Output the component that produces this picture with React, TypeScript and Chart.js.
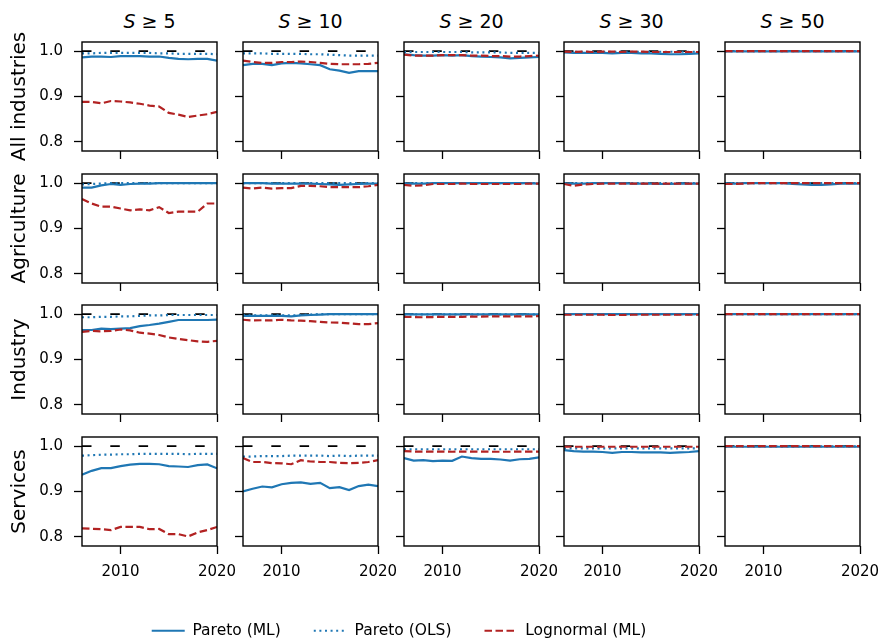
import { useEffect, useRef } from 'react';
import { Chart, registerables } from 'chart.js';

Chart.register(...registerables);

// ---------- data ----------
const YEARS = [2006, 2007, 2008, 2009, 2010, 2011, 2012, 2013, 2014, 2015, 2016, 2017, 2018, 2019, 2020];
const X_TICKS = [2010, 2020];
const Y_TICKS = [0.8, 0.9, 1.0];
const Y_MIN = 0.78;
const Y_MAX = 1.02;
const REFERENCE_Y = 1.0;
const ROW_LABELS = ['All industries', 'Agriculture', 'Industry', 'Services'];
const COL_THRESHOLDS = [5, 10, 20, 30, 50];
const SERIES_NAMES = ['Pareto (ML)', 'Pareto (OLS)', 'Lognormal (ML)'];

// All industries: columns S>=5, 10, 20, 30, 50
const ALL_PARETO_ML = [
  [0.986, 0.988, 0.988, 0.987, 0.989, 0.989, 0.989, 0.988, 0.988, 0.985, 0.983, 0.982, 0.983, 0.983, 0.979],
  [0.969, 0.972, 0.972, 0.969, 0.973, 0.974, 0.973, 0.971, 0.969, 0.960, 0.957, 0.952, 0.956, 0.956, 0.956],
  [0.993, 0.991, 0.990, 0.990, 0.991, 0.990, 0.991, 0.989, 0.988, 0.987, 0.986, 0.984, 0.985, 0.986, 0.987],
  [0.997, 0.996, 0.996, 0.996, 0.996, 0.995, 0.996, 0.996, 0.995, 0.995, 0.994, 0.993, 0.993, 0.994, 0.995],
  [0.9995, 0.9995, 0.9995, 0.9995, 0.9995, 0.9995, 0.9995, 0.9995, 0.9995, 0.9995, 0.9994, 0.9994, 0.9994, 0.9994, 0.9994],
];
const ALL_PARETO_OLS = [
  [0.995, 0.995, 0.996, 0.996, 0.996, 0.996, 0.996, 0.996, 0.995, 0.995, 0.994, 0.994, 0.994, 0.994, 0.993],
  [0.995, 0.995, 0.995, 0.994, 0.994, 0.994, 0.994, 0.993, 0.993, 0.992, 0.991, 0.990, 0.990, 0.990, 0.990],
  [0.998, 0.998, 0.998, 0.998, 0.998, 0.998, 0.998, 0.997, 0.997, 0.997, 0.997, 0.996, 0.996, 0.996, 0.996],
  [0.9985, 0.9985, 0.9985, 0.9985, 0.9985, 0.9985, 0.9985, 0.9985, 0.9985, 0.9985, 0.9985, 0.9985, 0.9985, 0.9985, 0.9985],
  [0.9998, 0.9998, 0.9998, 0.9998, 0.9998, 0.9998, 0.9998, 0.9998, 0.9998, 0.9998, 0.9998, 0.9998, 0.9998, 0.9998, 0.9998],
];
const ALL_LOGNORMAL_ML = [
  [0.888, 0.888, 0.885, 0.890, 0.889, 0.887, 0.884, 0.880, 0.878, 0.864, 0.860, 0.855, 0.858, 0.861, 0.866],
  [0.979, 0.976, 0.974, 0.974, 0.976, 0.976, 0.977, 0.976, 0.974, 0.972, 0.971, 0.971, 0.971, 0.972, 0.974],
  [0.992, 0.990, 0.990, 0.990, 0.991, 0.991, 0.991, 0.990, 0.990, 0.989, 0.989, 0.988, 0.988, 0.989, 0.990],
  [0.999, 0.998, 0.999, 0.998, 0.999, 0.999, 0.998, 0.999, 0.999, 0.998, 0.998, 0.998, 0.998, 0.998, 0.998],
  [0.9999, 0.9999, 0.9999, 0.9999, 0.9999, 0.9999, 0.9999, 0.9999, 0.9999, 0.9999, 0.9999, 0.9999, 0.9999, 0.9999, 0.9999],
];

// Agriculture
const AGR_PARETO_ML = [
  [0.990, 0.990, 0.995, 0.998, 0.996, 0.998, 0.999, 0.999, 1.0, 1.0, 1.0, 1.0, 1.0, 1.0, 1.0],
  [1.0, 1.0, 1.0, 0.999, 0.999, 0.999, 0.999, 0.999, 0.998, 0.997, 0.996, 0.997, 0.998, 0.999, 0.999],
  [0.999, 0.999, 0.999, 1.0, 1.0, 1.0, 1.0, 1.0, 1.0, 1.0, 1.0, 1.0, 1.0, 1.0, 0.999],
  [0.999, 0.999, 0.999, 1.0, 1.0, 1.0, 1.0, 0.999, 0.999, 0.999, 0.998, 0.998, 0.999, 0.999, 0.999],
  [0.999, 0.999, 1.0, 1.0, 1.0, 1.0, 1.0, 0.998, 0.997, 0.996, 0.996, 0.997, 0.999, 0.999, 0.999],
];
const AGR_PARETO_OLS = [
  [0.997, 0.998, 0.999, 1.0, 1.0, 1.0, 1.0, 1.0, 1.0, 1.0, 1.0, 1.0, 1.0, 1.0, 1.0],
  [0.9998, 0.9998, 0.9998, 0.9998, 0.9998, 0.9998, 0.9998, 0.9998, 0.9998, 0.9998, 0.9998, 0.9998, 0.9998, 0.9998, 0.9998],
  [1.0, 1.0, 1.0, 1.0, 1.0, 1.0, 1.0, 1.0, 1.0, 1.0, 1.0, 1.0, 1.0, 1.0, 1.0],
  [1.0, 1.0, 1.0, 1.0, 1.0, 1.0, 1.0, 1.0, 1.0, 1.0, 1.0, 1.0, 1.0, 1.0, 1.0],
  [1.0, 1.0, 1.0, 1.0, 1.0, 1.0, 1.0, 1.0, 1.0, 1.0, 1.0, 1.0, 1.0, 1.0, 1.0],
];
const AGR_LOGNORMAL_ML = [
  [0.965, 0.955, 0.948, 0.948, 0.944, 0.940, 0.942, 0.940, 0.947, 0.934, 0.937, 0.937, 0.937, 0.955, 0.955],
  [0.990, 0.988, 0.990, 0.988, 0.989, 0.989, 0.994, 0.994, 0.993, 0.991, 0.991, 0.991, 0.991, 0.993, 0.996],
  [0.996, 0.994, 0.995, 0.998, 0.998, 0.998, 0.999, 0.998, 0.998, 0.998, 0.998, 0.998, 0.998, 0.999, 0.999],
  [0.998, 0.994, 0.997, 0.998, 0.999, 0.999, 0.999, 0.999, 0.999, 0.999, 0.999, 0.999, 0.999, 0.999, 0.999],
  [0.998, 0.998, 0.999, 1.0, 1.0, 1.0, 1.0, 1.0, 1.0, 1.0, 1.0, 1.0, 1.0, 1.0, 1.0],
];

// Industry
const IND_PARETO_ML = [
  [0.965, 0.965, 0.968, 0.967, 0.968, 0.969, 0.9735, 0.976, 0.979, 0.983, 0.987, 0.987, 0.987, 0.987, 0.988],
  [0.996, 0.996, 0.996, 0.996, 0.996, 0.995, 0.997, 0.998, 0.999, 1.0, 1.0, 1.0, 1.0, 1.0, 1.0],
  [0.9995, 0.9995, 0.9995, 0.9995, 0.9995, 0.9995, 0.9995, 0.9995, 0.9995, 0.9995, 0.9995, 0.9995, 0.9995, 0.9995, 0.9995],
  [0.9998, 0.9998, 0.9998, 0.9998, 0.9998, 0.9998, 0.9998, 0.9998, 0.9998, 0.9998, 0.9998, 0.9998, 0.9998, 0.9998, 0.9998],
  [1.0, 1.0, 1.0, 1.0, 1.0, 1.0, 1.0, 1.0, 1.0, 1.0, 1.0, 1.0, 1.0, 1.0, 1.0],
];
const IND_PARETO_OLS = [
  [0.993, 0.993, 0.994, 0.994, 0.995, 0.995, 0.996, 0.997, 0.997, 0.998, 0.998, 0.998, 0.998, 0.998, 0.998],
  [0.997, 0.997, 0.997, 0.997, 0.997, 0.997, 0.998, 0.999, 1.0, 1.0, 1.0, 1.0, 1.0, 1.0, 1.0],
  [0.9995, 0.9995, 0.9995, 0.9995, 0.9995, 0.9995, 0.9995, 0.9995, 0.9995, 0.9995, 0.9995, 0.9995, 0.9995, 0.9995, 0.9995],
  [1.0, 1.0, 1.0, 1.0, 1.0, 1.0, 1.0, 1.0, 1.0, 1.0, 1.0, 1.0, 1.0, 1.0, 1.0],
  [1.0, 1.0, 1.0, 1.0, 1.0, 1.0, 1.0, 1.0, 1.0, 1.0, 1.0, 1.0, 1.0, 1.0, 1.0],
];
const IND_LOGNORMAL_ML = [
  [0.961, 0.963, 0.962, 0.963, 0.966, 0.964, 0.959, 0.957, 0.954, 0.9485, 0.9455, 0.9425, 0.940, 0.939, 0.941],
  [0.9875, 0.986, 0.9865, 0.986, 0.9875, 0.986, 0.9855, 0.9845, 0.983, 0.9815, 0.981, 0.9795, 0.978, 0.978, 0.980],
  [0.994, 0.9935, 0.993, 0.9935, 0.994, 0.994, 0.994, 0.9945, 0.9945, 0.995, 0.995, 0.995, 0.995, 0.995, 0.9955],
  [0.9985, 0.9985, 0.9985, 0.9985, 0.9985, 0.998, 0.998, 0.9985, 0.9985, 0.9985, 0.9985, 0.9985, 0.9985, 0.9985, 0.9985],
  [0.9999, 0.9999, 0.9999, 0.9999, 0.9999, 0.9999, 0.9999, 0.9999, 0.9999, 0.9999, 0.9999, 0.9999, 0.9999, 0.9999, 0.9999],
];

// Services
const SRV_PARETO_ML = [
  [0.937, 0.9455, 0.9515, 0.9515, 0.956, 0.959, 0.961, 0.961, 0.960, 0.956, 0.955, 0.954, 0.958, 0.9595, 0.951],
  [0.900, 0.906, 0.911, 0.909, 0.916, 0.919, 0.920, 0.917, 0.919, 0.9075, 0.9095, 0.903, 0.912, 0.915, 0.912],
  [0.9735, 0.968, 0.969, 0.967, 0.968, 0.9675, 0.977, 0.9735, 0.972, 0.972, 0.9705, 0.968, 0.971, 0.972, 0.975],
  [0.991, 0.989, 0.988, 0.988, 0.987, 0.985, 0.987, 0.987, 0.986, 0.986, 0.986, 0.985, 0.986, 0.987, 0.989],
  [0.9985, 0.9985, 0.9985, 0.9985, 0.9985, 0.9985, 0.9985, 0.9985, 0.9985, 0.9985, 0.9985, 0.9985, 0.9985, 0.9985, 0.9985],
];
const SRV_PARETO_OLS = [
  [0.979, 0.980, 0.981, 0.981, 0.982, 0.982, 0.983, 0.983, 0.983, 0.983, 0.983, 0.982, 0.983, 0.983, 0.983],
  [0.977, 0.977, 0.978, 0.978, 0.978, 0.979, 0.979, 0.979, 0.979, 0.978, 0.979, 0.978, 0.979, 0.979, 0.979],
  [0.993, 0.993, 0.993, 0.993, 0.993, 0.993, 0.993, 0.993, 0.993, 0.993, 0.993, 0.993, 0.993, 0.993, 0.993],
  [0.995, 0.995, 0.995, 0.995, 0.995, 0.995, 0.995, 0.995, 0.995, 0.995, 0.995, 0.995, 0.995, 0.995, 0.995],
  [0.9993, 0.9993, 0.9993, 0.9993, 0.9993, 0.9993, 0.9993, 0.9993, 0.9993, 0.9993, 0.9993, 0.9993, 0.9993, 0.9993, 0.9993],
];
const SRV_LOGNORMAL_ML = [
  [0.819, 0.818, 0.817, 0.815, 0.822, 0.822, 0.822, 0.817, 0.8175, 0.806, 0.806, 0.801, 0.810, 0.815, 0.822],
  [0.9735, 0.965, 0.965, 0.9625, 0.962, 0.960, 0.969, 0.966, 0.965, 0.965, 0.963, 0.9625, 0.963, 0.965, 0.969],
  [0.989, 0.988, 0.988, 0.988, 0.988, 0.9875, 0.988, 0.988, 0.988, 0.9875, 0.9875, 0.9875, 0.988, 0.988, 0.988],
  [0.9985, 0.9985, 0.9985, 0.9985, 0.9985, 0.9985, 0.9985, 0.9985, 0.9985, 0.9985, 0.9985, 0.9985, 0.9985, 0.9985, 0.9985],
  [1.0, 1.0, 1.0, 1.0, 1.0, 1.0, 1.0, 1.0, 1.0, 1.0, 1.0, 1.0, 1.0, 1.0, 1.0],
];

const PARETO_ML_ROWS = [ALL_PARETO_ML, AGR_PARETO_ML, IND_PARETO_ML, SRV_PARETO_ML];
const PARETO_OLS_ROWS = [ALL_PARETO_OLS, AGR_PARETO_OLS, IND_PARETO_OLS, SRV_PARETO_OLS];
const LOGNORMAL_ML_ROWS = [ALL_LOGNORMAL_ML, AGR_LOGNORMAL_ML, IND_LOGNORMAL_ML, SRV_LOGNORMAL_ML];

// ---------- styling / layout ----------
const BLUE = '#1f77b4';
const RED = '#b22222';
const FONT = 'DejaVu Sans';
const SOLID: number[] = [];
const DOTTED = [2, 3.6];
const DASHED = [7.5, 3.5];
const REF_DASH = [9.5, 18.8];
const LINE_W = 2.2;

const PANEL_LEFT = [82, 243, 404, 564, 725];
const PANEL_TOP = [42, 174, 305, 437];
const PANEL_W = 135;
const PANEL_H = 109;
const Y_AXIS_W = 82;
const PAD_T = 12;
const PAD_R = 24;
const X_AXIS_H = 12;
const X_AXIS_H_BOTTOM = 45;
const TICK_FONT = 15;

Chart.defaults.font.family = FONT;
Chart.defaults.color = '#000';

const framePlugin = {
  id: 'frame',
  afterDraw(chart: any) {
    const { ctx, chartArea: a } = chart;
    ctx.save();
    ctx.strokeStyle = '#000';
    ctx.lineWidth = 1.4;
    ctx.setLineDash([]);
    ctx.strokeRect(a.left, a.top, a.right - a.left, a.bottom - a.top);
    ctx.restore();
  },
};

const toPoints = (vals: number[]) => vals.map((y, i) => ({ x: YEARS[i], y }));

function Panel({ row, col }: { row: number; col: number }) {
  const ref = useRef<HTMLCanvasElement>(null);
  const isBottom = row === ROW_LABELS.length - 1;
  const isLeft = col === 0;
  const cw = Y_AXIS_W + PANEL_W + PAD_R;
  const ch = PAD_T + PANEL_H + (isBottom ? X_AXIS_H_BOTTOM : X_AXIS_H);

  useEffect(() => {
    if (!ref.current) return;
    const tickGrid = {
      display: true,
      drawOnChartArea: false,
      drawTicks: true,
      tickLength: 8,
      tickWidth: 1.3,
      tickColor: '#000',
    };
    const chart = new Chart(ref.current, {
      type: 'line',
      data: {
        datasets: [
          {
            label: SERIES_NAMES[2],
            data: toPoints(LOGNORMAL_ML_ROWS[row][col]),
            borderColor: RED,
            borderDash: DASHED,
            borderWidth: LINE_W,
            pointRadius: 0,
            order: 0,
          },
          {
            label: SERIES_NAMES[1],
            data: toPoints(PARETO_OLS_ROWS[row][col]),
            borderColor: BLUE,
            borderDash: DOTTED,
            borderWidth: LINE_W,
            pointRadius: 0,
            order: 1,
          },
          {
            label: SERIES_NAMES[0],
            data: toPoints(PARETO_ML_ROWS[row][col]),
            borderColor: BLUE,
            borderDash: SOLID,
            borderWidth: LINE_W,
            pointRadius: 0,
            order: 2,
          },
          {
            label: 'reference',
            data: [
              { x: YEARS[0], y: REFERENCE_Y },
              { x: YEARS[YEARS.length - 1], y: REFERENCE_Y },
            ],
            borderColor: '#000',
            borderDash: REF_DASH,
            borderWidth: 1.7,
            pointRadius: 0,
            order: 3,
          },
        ],
      },
      options: {
        animation: false,
        responsive: false,
        devicePixelRatio: 1,
        events: [],
        layout: { padding: { left: 0, right: PAD_R, top: PAD_T, bottom: 0 } },
        elements: { line: { tension: 0, fill: false } },
        plugins: { legend: { display: false }, tooltip: { enabled: false }, title: { display: false } },
        scales: {
          x: {
            type: 'linear',
            min: YEARS[0],
            max: YEARS[YEARS.length - 1],
            afterBuildTicks: (s: any) => {
              s.ticks = X_TICKS.map((v) => ({ value: v }));
            },
            afterFit: (s: any) => {
              s.height = isBottom ? X_AXIS_H_BOTTOM : X_AXIS_H;
              s.paddingLeft = 0;
              s.paddingRight = 0;
            },
            grid: tickGrid,
            border: { display: false },
            ticks: {
              display: true,
              autoSkip: false,
              maxRotation: 0,
              padding: 9,
              color: '#000',
              font: { size: TICK_FONT, family: FONT },
              callback: (v: any) => (isBottom ? String(v) : ''),
            },
          },
          y: {
            type: 'linear',
            min: Y_MIN,
            max: Y_MAX,
            afterBuildTicks: (s: any) => {
              s.ticks = Y_TICKS.map((v) => ({ value: v }));
            },
            afterFit: (s: any) => {
              s.width = Y_AXIS_W;
              s.paddingTop = 0;
              s.paddingBottom = 0;
            },
            grid: tickGrid,
            border: { display: false },
            ticks: {
              display: true,
              autoSkip: false,
              padding: 11,
              color: '#000',
              font: { size: TICK_FONT, family: FONT },
              callback: (v: any) => (isLeft ? Number(v).toFixed(1) : ''),
            },
            title: {
              display: isLeft,
              text: ROW_LABELS[row],
              color: '#000',
              font: { size: 20, family: FONT },
              padding: { top: 8, bottom: 0 },
            },
          },
        },
      } as any,
      plugins: [framePlugin],
    });
    return () => chart.destroy();
  }, [row, col]);

  return (
    <canvas
      ref={ref}
      width={cw}
      height={ch}
      style={{
        position: 'absolute',
        left: PANEL_LEFT[col] - Y_AXIS_W,
        top: PANEL_TOP[row] - PAD_T,
        width: cw,
        height: ch,
      }}
    />
  );
}

function LegendChart() {
  const ref = useRef<HTMLCanvasElement>(null);
  useEffect(() => {
    if (!ref.current) return;
    const styles = [
      { color: BLUE, dash: SOLID },
      { color: BLUE, dash: DOTTED },
      { color: RED, dash: DASHED },
    ];
    const chart = new Chart(ref.current, {
      type: 'line',
      data: {
        datasets: SERIES_NAMES.map((name, i) => ({
          label: name,
          data: [],
          borderColor: styles[i].color,
          borderDash: styles[i].dash,
          borderWidth: LINE_W,
        })),
      },
      options: {
        animation: false,
        responsive: false,
        devicePixelRatio: 1,
        events: [],
        layout: { padding: 0 },
        scales: { x: { display: false }, y: { display: false } },
        plugins: {
          tooltip: { enabled: false },
          legend: {
            display: true,
            position: 'top',
            maxHeight: 110,
            labels: {
              usePointStyle: true,
              pointStyleWidth: 33,
              padding: 33,
              color: '#000',
              font: { size: 15.5, family: FONT },
              generateLabels: (c: any) =>
                c.data.datasets.map((ds: any, i: number) => ({
                  text: ds.label,
                  strokeStyle: ds.borderColor,
                  fillStyle: ds.borderColor,
                  lineWidth: ds.borderWidth,
                  lineDash: ds.borderDash,
                  lineCap: 'butt',
                  pointStyle: 'line',
                  hidden: false,
                  fontColor: '#000',
                  datasetIndex: i,
                })),
            },
          },
        },
      } as any,
    });
    return () => chart.destroy();
  }, []);
  return (
    <canvas
      ref={ref}
      width={600}
      height={240}
      style={{ position: 'absolute', left: 99, top: 590, width: 600, height: 240 }}
    />
  );
}

export default function App() {
  const panels = [];
  for (let r = 0; r < ROW_LABELS.length; r++) {
    for (let c = 0; c < COL_THRESHOLDS.length; c++) {
      panels.push(<Panel key={`${r}-${c}`} row={r} col={c} />);
    }
  }
  return (
    <div
      style={{
        position: 'absolute',
        left: 0,
        top: 0,
        width: 884,
        height: 643,
        background: '#fff',
        overflow: 'hidden',
      }}
    >
      {COL_THRESHOLDS.map((t, c) => (
        <div
          key={`t${c}`}
          style={{
            position: 'absolute',
            left: PANEL_LEFT[c],
            top: 8,
            width: PANEL_W,
            textAlign: 'center',
            fontFamily: FONT,
            fontSize: 19,
            lineHeight: '26px',
            color: '#000',
            whiteSpace: 'nowrap',
          }}
        >
          <i>S</i> ≥ {t}
        </div>
      ))}
      {panels}
      <LegendChart />
    </div>
  );
}
